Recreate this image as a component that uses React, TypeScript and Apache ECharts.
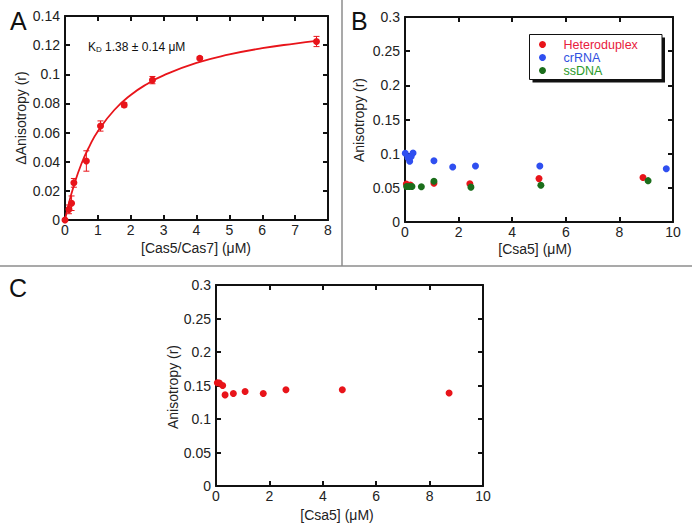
import React, { useEffect, useRef } from "react";
import * as echarts from "echarts";

// Panel A: binding titration
const aConc = [0, 0.12, 0.2, 0.27, 0.65, 1.08, 1.8, 2.66, 4.1, 7.65];
const aAniso = [0, 0.0073, 0.0115, 0.0255, 0.0405, 0.0645, 0.079, 0.096, 0.111, 0.1225];
const aErr = [0, 0.003, 0.005, 0.003, 0.007, 0.0035, 0.0015, 0.0025, 0.001, 0.0035];
// Fitted curve
const fitConc = [0, 0.1, 0.25, 0.5, 0.75, 1, 1.5, 2, 2.5, 3, 4, 5, 6, 7, 7.65];
const fitAniso = [0, 0.0098, 0.0222, 0.0386, 0.0509, 0.0609, 0.0755, 0.0858, 0.0934, 0.0993, 0.1078, 0.1136, 0.1179, 0.1211, 0.1229];

// Panel B
const heteroConc = [0.05, 0.2, 1.08, 2.42, 5.0, 8.88];
const heteroAniso = [0.0555, 0.054, 0.0566, 0.056, 0.0635, 0.065];
const crConc = [0.01, 0.11, 0.175, 0.23, 0.3, 1.08, 1.78, 2.63, 5.03, 9.75];
const crAniso = [0.1005, 0.094, 0.089, 0.096, 0.101, 0.0897, 0.0805, 0.082, 0.082, 0.078];
const ssConc = [0.06, 0.16, 0.26, 0.61, 1.08, 2.46, 5.07, 9.07];
const ssAniso = [0.052, 0.052, 0.052, 0.0517, 0.0597, 0.051, 0.0537, 0.0605];

// Panel C
const cConc = [0.05, 0.125, 0.25, 0.34, 0.65, 1.09, 1.77, 2.62, 4.73, 8.73];
const cAniso = [0.154, 0.1537, 0.15, 0.136, 0.138, 0.141, 0.138, 0.1437, 0.1437, 0.1388];

const seriesNames = ["Heteroduplex", "crRNA", "ssDNA"];

const FONT = "'Liberation Sans', Arial, sans-serif";
const RED = "#e8141a";
const BLUE = "#2f4ff0";
const GREEN = "#1b6e1b";

const zip = (xs: number[], ys: number[]) => xs.map((x, i) => [x, ys[i]]);

export default function App() {
  const ref = useRef<HTMLDivElement>(null);
  useEffect(() => {
    document.body.style.margin = "0";
    const chart = echarts.init(ref.current!, null, { renderer: "svg" });

    const frameLine = { show: true, onZero: false, lineStyle: { color: "#111", width: 2 } };
    const tick = { show: true, inside: true, length: 5, lineStyle: { color: "#111", width: 2 } };
    const label = { color: "#222", fontSize: 14, fontFamily: FONT, margin: 3 };

    const mkX = (grid: number, max: number, interval: number) => [
      { type: "value", gridIndex: grid, position: "bottom", min: 0, max, interval, axisLine: frameLine, axisTick: tick, axisLabel: label, splitLine: { show: false } },
      { type: "value", gridIndex: grid, position: "top", min: 0, max, interval, axisLine: frameLine, axisTick: tick, axisLabel: { show: false }, splitLine: { show: false } },
    ];
    const mkY = (grid: number, max: number, interval: number) => [
      { type: "value", gridIndex: grid, position: "left", min: 0, max, interval, axisLine: frameLine, axisTick: tick, axisLabel: { ...label, margin: 5 }, splitLine: { show: false } },
      { type: "value", gridIndex: grid, position: "right", min: 0, max, interval, axisLine: frameLine, axisTick: tick, axisLabel: { show: false }, splitLine: { show: false } },
    ];

    const titleStyle = { fill: "#222", fontSize: 14, fontFamily: FONT, align: "center", verticalAlign: "middle" };

    const errData = aConc.map((x, i) => [x, aAniso[i] - aErr[i], aAniso[i] + aErr[i]]);
    const dot = (color: string) => ({ color, opacity: 1 });

    chart.setOption({
      animation: false,
      grid: [
        { left: 65, top: 16, width: 263, height: 204 },
        { left: 405, top: 17, width: 268, height: 205 },
        { left: 216, top: 285, width: 267, height: 201 },
      ],
      xAxis: [...mkX(0, 8, 1), ...mkX(1, 10, 2), ...mkX(2, 10, 2)],
      yAxis: [...mkY(0, 0.14, 0.02), ...mkY(1, 0.3, 0.05), ...mkY(2, 0.3, 0.05)],
      legend: {
        data: [
          { name: seriesNames[0], textStyle: { color: "#e8203c" } },
          { name: seriesNames[1], textStyle: { color: "#3050e0" } },
          { name: seriesNames[2], textStyle: { color: "#2a9a2a" } },
        ],
        orient: "vertical",
        left: 539,
        top: 38,
        itemWidth: 32,
        itemHeight: 7,
        itemGap: 0,
        padding: 0,
        icon: "circle",
        textStyle: { fontSize: 12.5, fontFamily: FONT, lineHeight: 12.5 },
        selectedMode: false,
        z: 10,
      },
      graphic: [
        { type: "line", shape: { x1: 342, y1: 0, x2: 342, y2: 266 }, style: { stroke: "#8c8c8c", lineWidth: 1.5 } },
        { type: "line", shape: { x1: 0, y1: 266, x2: 692, y2: 266 }, style: { stroke: "#8c8c8c", lineWidth: 1.5 } },
        { type: "text", x: 10, y: 21, style: { text: "A", fill: "#111", fontSize: 25, fontFamily: FONT, verticalAlign: "middle" } },
        { type: "text", x: 351, y: 21, style: { text: "B", fill: "#111", fontSize: 25, fontFamily: FONT, verticalAlign: "middle" } },
        { type: "text", x: 9, y: 288, style: { text: "C", fill: "#111", fontSize: 25, fontFamily: FONT, verticalAlign: "middle" } },
        { type: "text", x: 20.5, y: 118, rotation: Math.PI / 2, style: { ...titleStyle, text: "ΔAnisotropy (r)" } },
        { type: "text", x: 196, y: 248, style: { ...titleStyle, text: "[Cas5/Cas7] (μM)" } },
        { type: "text", x: 359, y: 120, rotation: Math.PI / 2, style: { ...titleStyle, text: "Anisotropy (r)" } },
        { type: "text", x: 535, y: 249, style: { ...titleStyle, text: "[Csa5] (μM)" } },
        { type: "text", x: 172.5, y: 387, rotation: Math.PI / 2, style: { ...titleStyle, text: "Anisotropy (r)" } },
        { type: "text", x: 337, y: 515, style: { ...titleStyle, text: "[Csa5] (μM)" } },
        {
          type: "text", x: 88, y: 47,
          style: {
            text: "{k|K}{s|D}{k| 1.38 ± 0.14 μM}",
            verticalAlign: "middle",
            rich: {
              k: { fontSize: 12, fontFamily: FONT, fill: "#111", verticalAlign: "bottom" },
              s: { fontSize: 8, fontFamily: FONT, fill: "#111", verticalAlign: "bottom" },
            },
          },
        },
        { type: "rect", shape: { x: 532.5, y: 37.5, width: 132.5, height: 45 }, style: { fill: "#111" }, z: 1 },
        { type: "rect", shape: { x: 529.5, y: 34.5, width: 132.5, height: 45 }, style: { fill: "#fff", stroke: "#111", lineWidth: 1 }, z: 2 },
      ],
      series: [
        { type: "line", xAxisIndex: 0, yAxisIndex: 0, data: zip(fitConc, fitAniso), smooth: true, showSymbol: false, lineStyle: { color: RED, width: 1.8 }, silent: true },
        {
          type: "custom", xAxisIndex: 0, yAxisIndex: 0, data: errData, encode: { x: 0, y: [1, 2] },
          renderItem: (params: any, api: any) => {
            const x = api.value(0);
            const lo = api.coord([x, api.value(1)]);
            const hi = api.coord([x, api.value(2)]);
            const st = { stroke: RED, lineWidth: 1 };
            return {
              type: "group",
              children: [
                { type: "line", shape: { x1: lo[0], y1: lo[1], x2: hi[0], y2: hi[1] }, style: st },
                { type: "line", shape: { x1: lo[0] - 3, y1: lo[1], x2: lo[0] + 3, y2: lo[1] }, style: st },
                { type: "line", shape: { x1: hi[0] - 3, y1: hi[1], x2: hi[0] + 3, y2: hi[1] }, style: st },
              ],
            };
          },
        },
        { type: "scatter", xAxisIndex: 0, yAxisIndex: 0, data: zip(aConc, aAniso), symbolSize: 7, itemStyle: dot(RED) },
        { name: seriesNames[0], type: "scatter", xAxisIndex: 2, yAxisIndex: 2, data: zip(heteroConc, heteroAniso), symbolSize: 7, itemStyle: dot(RED) },
        { name: seriesNames[1], type: "scatter", xAxisIndex: 2, yAxisIndex: 2, data: zip(crConc, crAniso), symbolSize: 7, itemStyle: dot(BLUE) },
        { name: seriesNames[2], type: "scatter", xAxisIndex: 2, yAxisIndex: 2, data: zip(ssConc, ssAniso), symbolSize: 7, itemStyle: dot(GREEN) },
        { type: "scatter", xAxisIndex: 4, yAxisIndex: 4, data: zip(cConc, cAniso), symbolSize: 7, itemStyle: dot(RED) },
      ],
    });
    return () => chart.dispose();
  }, []);
  return <div ref={ref} style={{ position: "absolute", left: 0, top: 0, width: 692, height: 530 }} />;
}
